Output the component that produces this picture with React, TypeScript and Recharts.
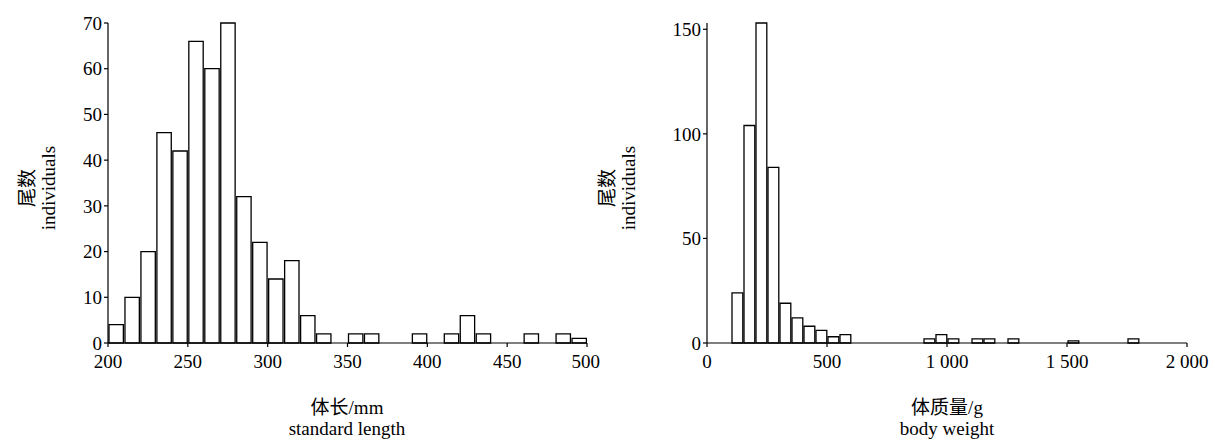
import React from 'react';
import { BarChart, Bar, XAxis, YAxis } from 'recharts';

// standard length bins (mm), width 10
const lengthBins = [205, 215, 225, 235, 245, 255, 265, 275, 285, 295, 305, 315, 325, 335, 345, 355, 365, 375, 385, 395, 405, 415, 425, 435, 445, 455, 465, 475, 485, 495];
const lengthCounts = [4, 10, 20, 46, 42, 66, 60, 70, 32, 22, 14, 18, 6, 2, 0, 2, 2, 0, 0, 2, 0, 2, 6, 2, 0, 0, 2, 0, 2, 1];
const lengthTicks = [200, 250, 300, 350, 400, 450, 500];
const lengthYTicks = [0, 10, 20, 30, 40, 50, 60, 70];

// body weight bins (g), width 50
const weightBins = [125, 175, 225, 275, 325, 375, 425, 475, 525, 575, 925, 975, 1025, 1125, 1175, 1275, 1525, 1775];
const weightCounts = [24, 104, 153, 84, 19, 12, 8, 6, 3, 4, 2, 4, 2, 2, 2, 2, 1, 2];
const weightTicks = [0, 500, 1000, 1500, 2000];
const weightYTicks = [0, 50, 100, 150];

const lengthData = lengthBins.map((x, i) => ({ x, n: lengthCounts[i] }));
const weightData = weightBins.map((x, i) => ({ x, n: weightCounts[i] }));

const FONT = '"Liberation Serif", "Times New Roman", "Noto Sans CJK SC", serif';
const tickStyle = { fill: '#000', fontSize: 19, fontFamily: FONT };
const axisLine = { stroke: '#000', strokeWidth: 1.2 };

const fmt = (v: number) => (v >= 1000 ? `${Math.floor(v / 1000)} ${String(v % 1000).padStart(3, '0')}` : String(v));

const YLabel = ({ x }: { x: number }) => (
  <div style={{ position: 'absolute', left: x, top: 188, transform: 'translate(-50%, -50%) rotate(-90deg)', textAlign: 'center', fontFamily: FONT, fontSize: 19, lineHeight: '21px', whiteSpace: 'nowrap' }}>
    <div>尾数</div>
    <div>individuals</div>
  </div>
);

const XLabel = ({ x, cn, en }: { x: number; cn: string; en: string }) => (
  <div style={{ position: 'absolute', left: x, top: 397, transform: 'translateX(-50%)', textAlign: 'center', fontFamily: FONT, fontSize: 19, lineHeight: '21px', whiteSpace: 'nowrap' }}>
    <div>{cn}</div>
    <div>{en}</div>
  </div>
);

export default function App() {
  return (
    <div style={{ position: 'absolute', left: 0, top: 0, width: 1215, height: 440, background: '#fff' }}>
      <div style={{ position: 'absolute', left: 0, top: 0 }}>
        <BarChart width={600} height={440} data={lengthData} margin={{ top: 23, right: 13, left: 68, bottom: 67 }}>
          <XAxis dataKey="x" type="number" domain={[200, 500]} ticks={lengthTicks} tick={tickStyle} axisLine={axisLine} tickLine={axisLine} tickSize={4} tickMargin={8} height={30} allowDataOverflow />
          <YAxis type="number" domain={[0, 70]} ticks={lengthYTicks} tick={tickStyle} axisLine={axisLine} tickLine={axisLine} tickSize={4} width={40} />
          <Bar dataKey="n" fill="#fff" stroke="#000" strokeWidth={1.3} barSize={16} isAnimationActive={false} />
        </BarChart>
      </div>
      <div style={{ position: 'absolute', left: 600, top: 0 }}>
        <BarChart width={615} height={440} data={weightData} margin={{ top: 23, right: 28, left: 67, bottom: 67 }}>
          <XAxis dataKey="x" type="number" domain={[0, 2000]} ticks={weightTicks} tickFormatter={fmt} tick={tickStyle} axisLine={axisLine} tickLine={axisLine} tickSize={4} tickMargin={8} height={30} allowDataOverflow />
          <YAxis type="number" domain={[0, 150]} ticks={weightYTicks} tick={tickStyle} axisLine={axisLine} tickLine={axisLine} tickSize={4} width={40} />
          <Bar dataKey="n" fill="#fff" stroke="#000" strokeWidth={1.3} barSize={12} isAnimationActive={false} />
        </BarChart>
      </div>
      <YLabel x={38} />
      <YLabel x={618} />
      <XLabel x={347} cn="体长/mm" en="standard length" />
      <XLabel x={947} cn="体质量/g" en="body weight" />
    </div>
  );
}
